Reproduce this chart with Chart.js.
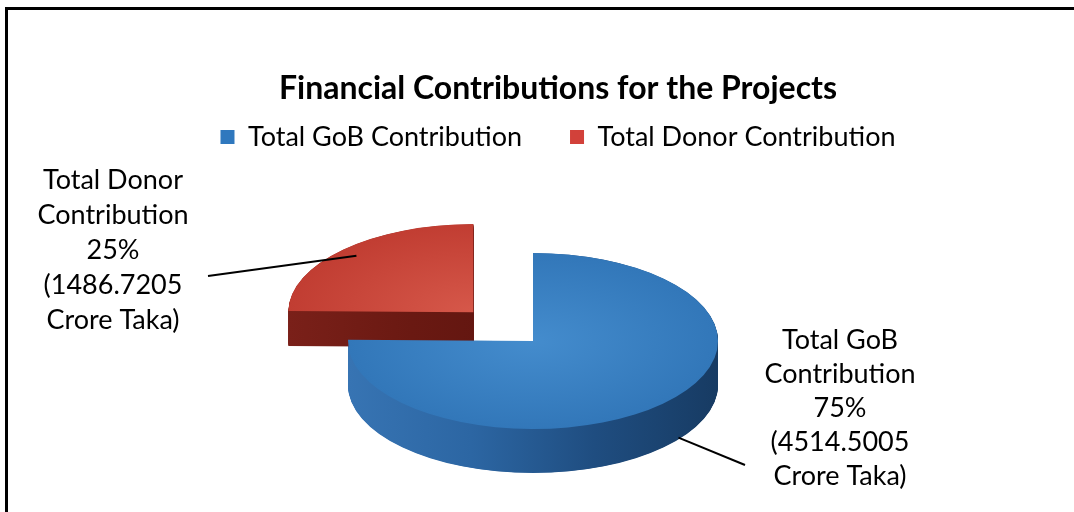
<!DOCTYPE html>
<html>
<head>
<meta charset="utf-8">
<title>Financial Contributions for the Projects</title>
<script src="https://cdn.jsdelivr.net/npm/chart.js@4.4.1/dist/chart.umd.min.js"></script>
<style>
  html, body { margin: 0; padding: 0; background: #fff; overflow: hidden; }
  #wrap { position: relative; width: 1074px; height: 512px; }
  #frame { position: absolute; left: 5px; top: 7px; right: 0; bottom: 0;
           border-top: 3px solid #000; border-left: 3px solid #000; }
  #pieChart { position: absolute; left: 0; top: 0; }
</style>
</head>
<body>
<div id="wrap">
  <div id="frame"></div>
  <canvas id="pieChart" width="1074" height="512"></canvas>
</div>
<script>
// data
const categories = ['Total GoB Contribution', 'Total Donor Contribution'];
const amounts = [4514.5005, 1486.7205];
const unitName = 'Crore Taka';

// colours: legend swatch, top face (centre -> rim), side wall (left -> right)
const legendColors = ['#2f78be', '#d2413a'];
const topColors = [['#448ccd', '#3277b9'], ['#d6584a', '#c13d32']];
const sideColors = [['#3774b3', '#2c66a3', '#1f4d80', '#173b63'], ['#7a2019', '#6a1912', '#5e140f', '#4f100c']];

// disc placement
const pieCenter = { x: 533, y: 341 };
const pieRadius = 185;
const tilt = 0.476;        // vertical squash of the disc
const wallHeight = [44, 35]; // px, the pulled-out slice sits further back
const donorPull = 340;     // arc "offset" option, chart.js moves the slice by offset / 4

const textFont = '27px Lato';
const labelSpots = [
  { x: 840, y: 340, lh: 34, reach: 1.12, drop: 0.6, end: { x: 745, y: 465 } },
  { x: 113, y: 180, lh: 35, reach: 0.9, drop: 0, end: { x: 208, y: 276 } }
];

const total = amounts.reduce((a, b) => a + b, 0);

function arcGeom(arc) {
  const p = arc.getProps(['x', 'y', 'startAngle', 'endAngle', 'outerRadius']);
  const off = (arc.options.offset || 0) / 4;
  const mid = (p.startAngle + p.endAngle) / 2;
  return { x: p.x + Math.cos(mid) * off, y: p.y + Math.sin(mid) * off, r: p.outerRadius,
           a0: p.startAngle, a1: p.endAngle, mid: mid, off: off };
}

// squash the drawing space so the pie lies flat
function discTransform(chart, ctx) {
  const arc = chart.getDatasetMeta(0).data[0];
  ctx.translate(pieCenter.x, pieCenter.y);
  ctx.scale(1, tilt);
  ctx.translate(-arc.x, -arc.y);
}

function topFill(c) {
  const area = c.chart.chartArea;
  if (!area) return topColors[c.dataIndex][0];
  const cx = (area.left + area.right) / 2, cy = (area.top + area.bottom) / 2;
  const g = c.chart.ctx.createRadialGradient(cx, cy, 0, cx, cy, pieRadius);
  g.addColorStop(0, topColors[c.dataIndex][0]);
  g.addColorStop(1, topColors[c.dataIndex][1]);
  return g;
}

const pie3d = {
  id: 'pie3d',
  beforeDatasetsDraw(chart) {
    const ctx = chart.ctx;
    const arcs = chart.getDatasetMeta(0).data;
    ctx.save();
    discTransform(chart, ctx);
    arcs.forEach((arc, i) => {
      const g = arcGeom(arc);
      const grad = ctx.createLinearGradient(g.x - g.r, 0, g.x + g.r, 0);
      const cols = sideColors[i];
      cols.forEach((c, k) => grad.addColorStop(k / (cols.length - 1), c));
      ctx.fillStyle = grad;
      // stack copies of the slice downwards to build its wall
      for (let s = wallHeight[i] / tilt; s > 0; s -= 1) {
        ctx.beginPath();
        ctx.moveTo(g.x, g.y + s);
        ctx.arc(g.x, g.y + s, g.r, g.a0, g.a1);
        ctx.closePath();
        ctx.fill();
      }
    });
  },
  afterDatasetsDraw(chart) {
    chart.ctx.restore();
  },
  afterDraw(chart) {
    const ctx = chart.ctx;
    const arcs = chart.getDatasetMeta(0).data;
    ctx.save();
    arcs.forEach((arc, i) => {
      const g = arcGeom(arc);
      const spot = labelSpots[i];
      const r = g.off + g.r * spot.reach;
      const sx = pieCenter.x + Math.cos(g.mid) * r;
      const sy = pieCenter.y + Math.sin(g.mid) * r * tilt + wallHeight[i] * spot.drop;

      ctx.strokeStyle = '#000';
      ctx.lineWidth = 2;
      ctx.beginPath();
      ctx.moveTo(sx, sy);
      ctx.lineTo(spot.end.x, spot.end.y);
      ctx.stroke();

      const words = categories[i].split(' ');
      const lines = [
        words.slice(0, -1).join(' '),
        words[words.length - 1],
        Math.round(amounts[i] / total * 100) + '%',
        '(' + amounts[i].toFixed(4),
        unitName + ')'
      ];
      ctx.font = textFont;
      ctx.fillStyle = '#000';
      ctx.textAlign = 'center';
      ctx.textBaseline = 'middle';
      lines.forEach((t, k) => ctx.fillText(t, spot.x, spot.y + k * spot.lh));
    });
    ctx.restore();
  }
};

new Chart(document.getElementById('pieChart'), {
  type: 'pie',
  data: {
    labels: categories,
    datasets: [{
      data: amounts,
      backgroundColor: topFill,
      borderWidth: 0,
      offset: [0, donorPull],
      clip: false
    }]
  },
  options: {
    responsive: false,
    maintainAspectRatio: false,
    animation: false,
    events: [],
    radius: pieRadius,
    layout: { padding: { left: 42, right: 0, top: 0, bottom: 0 } },
    plugins: {
      title: {
        display: true,
        text: 'Financial Contributions for the Projects',
        color: '#000',
        font: { family: 'Lato', size: 32, weight: 'bold' },
        padding: { top: 69, bottom: -32 }
      },
      legend: {
        position: 'top',
        labels: {
          color: '#000',
          font: { family: 'Lato', size: 27 },
          boxWidth: 14,
          boxHeight: 14,
          padding: 48,
          generateLabels(chart) {
            const items = Chart.overrides.pie.plugins.legend.labels.generateLabels(chart);
            items.forEach((it, i) => {
              it.fillStyle = legendColors[i];
              it.strokeStyle = legendColors[i];
              it.lineWidth = 0;
            });
            return items;
          }
        }
      },
      tooltip: { enabled: false }
    }
  },
  plugins: [pie3d]
});
</script>
</body>
</html>
